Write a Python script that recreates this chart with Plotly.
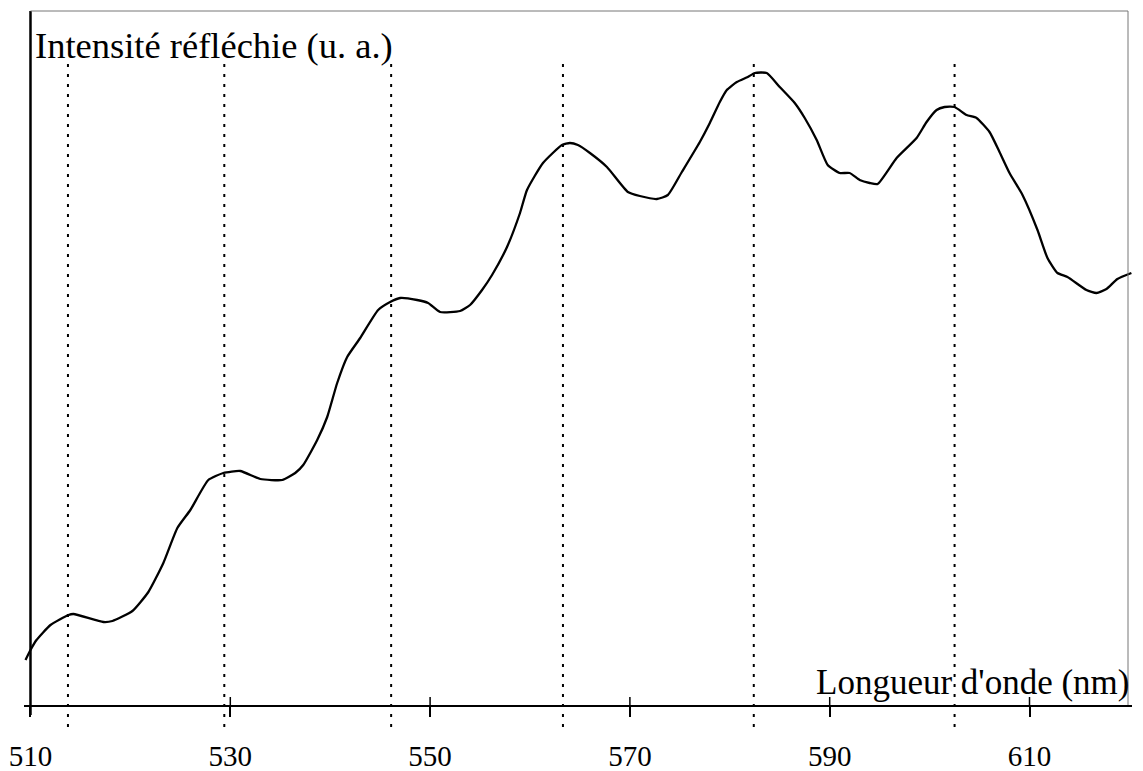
import plotly.graph_objects as go

# Reflected intensity spectrum (arbitrary units)
wavelength_nm = [509.5, 510.0, 510.6, 512.0, 513.8, 514.3, 517.3, 518.2, 520.2, 521.8,
                 523.3, 524.7, 526.0, 527.8, 529.3, 531.0, 533.0, 535.2, 536.5, 537.3,
                 538.7, 539.7, 540.7, 541.7, 543.0, 544.8, 546.0, 547.0, 548.7, 549.8,
                 551.0, 553.0, 554.0, 555.2, 556.2, 557.7, 559.0, 559.7, 561.3, 563.2,
                 564.0, 564.8, 566.0, 567.7, 569.8, 571.0, 572.7, 573.8, 575.2, 577.0,
                 578.0, 579.0, 579.7, 580.7, 581.8, 582.5, 583.7, 585.0, 586.5, 587.5,
                 588.7, 589.8, 591.0, 592.0, 593.0, 594.0, 594.8, 596.7, 598.7, 599.7,
                 600.7, 601.5, 602.5, 603.7, 604.7, 606.0, 607.0, 608.0, 609.3, 610.8,
                 611.8, 612.8, 613.8, 615.7, 616.7, 617.7, 618.8, 620.2]
intensity = [0.45, 0.55, 0.65, 0.80, 0.90, 0.91, 0.83, 0.84, 0.94, 1.13,
             1.42, 1.77, 1.95, 2.25, 2.32, 2.34, 2.26, 2.25, 2.32, 2.40,
             2.65, 2.88, 3.22, 3.48, 3.67, 3.95, 4.03, 4.07, 4.05, 4.02,
             3.93, 3.94, 4.00, 4.15, 4.30, 4.58, 4.92, 5.15, 5.42, 5.60,
             5.62, 5.60, 5.52, 5.38, 5.13, 5.09, 5.06, 5.10, 5.33, 5.63,
             5.82, 6.03, 6.15, 6.23, 6.28, 6.32, 6.32, 6.18, 6.02, 5.87,
             5.65, 5.40, 5.32, 5.32, 5.25, 5.22, 5.21, 5.47, 5.67, 5.83,
             5.95, 5.98, 5.98, 5.90, 5.87, 5.73, 5.53, 5.32, 5.10, 4.75,
             4.47, 4.32, 4.28, 4.15, 4.12, 4.16, 4.26, 4.32]

# Peak positions marked with dotted lines
peak_nm = [513.75, 529.4, 546.1, 563.3, 582.4, 602.5]

tick_vals = [510, 530, 550, 570, 590, 610]
tick_text = ["510", "530", "550", "570", "590", "610"]

x_min, x_max = 509.35, 620.26
frame_right = 619.86
y_max = 6.94

SERIF = "Liberation Serif, Times New Roman, serif"

fig = go.Figure()
fig.add_trace(go.Scatter(x=wavelength_nm, y=intensity, mode="lines",
                         line=dict(color="black", width=2.3, shape="spline", smoothing=0.5),
                         hoverinfo="skip", showlegend=False))

shapes = []
# dotted peak markers
for p in peak_nm:
    shapes.append(dict(type="line", xref="x", yref="paper", x0=p, x1=p,
                       y0=-0.0317, y1=0.925,
                       line=dict(color="black", width=2, dash="3px,7px")))
# left axis
shapes.append(dict(type="line", xref="x", yref="paper", x0=510, x1=510, y0=-0.0144, y1=1,
                   line=dict(color="black", width=2.5)))
# upward tick halves (ticks crossing the axis)
for t in tick_vals[1:]:
    shapes.append(dict(type="line", xref="x", yref="paper", x0=t, x1=t, y0=0, y1=0.0115,
                       line=dict(color="black", width=1.5)))
# thin frame top and right
shapes.append(dict(type="line", xref="x", yref="paper", x0=510, x1=frame_right, y0=1, y1=1,
                   line=dict(color="#777777", width=1)))
shapes.append(dict(type="line", xref="x", yref="paper", x0=frame_right, x1=frame_right, y0=0, y1=1,
                   line=dict(color="#777777", width=1)))

fig.update_layout(
    width=1143, height=771,
    margin=dict(l=24, r=11, t=11, b=66),
    paper_bgcolor="white", plot_bgcolor="white",
    font=dict(family=SERIF, color="black"),
    shapes=shapes,
    xaxis=dict(range=[x_min, x_max], showgrid=False, zeroline=False, automargin=False,
               showline=True, linecolor="black", linewidth=2,
               tickmode="array", tickvals=tick_vals, ticktext=tick_text,
               ticks="outside", ticklen=10, tickwidth=1.5, tickcolor="black",
               tickfont=dict(family=SERIF, size=29, color="black"),
               ticklabelstandoff=14),
    yaxis=dict(range=[0, y_max], showgrid=False, zeroline=False, showline=False,
               showticklabels=False, ticks="", automargin=False),
    annotations=[
        dict(text="Intensité réfléchie (u. a.)", xref="paper", yref="paper",
             x=0.0081, y=0.951, xanchor="left", yanchor="middle", showarrow=False,
             font=dict(family=SERIF, size=36.5, color="black")),
        dict(text="Longueur d'onde (nm)", xref="paper", yref="paper",
             x=0.9991, y=0.033, xanchor="right", yanchor="middle", showarrow=False,
             font=dict(family=SERIF, size=35, color="black")),
    ],
)

fig.write_html("out.html")
